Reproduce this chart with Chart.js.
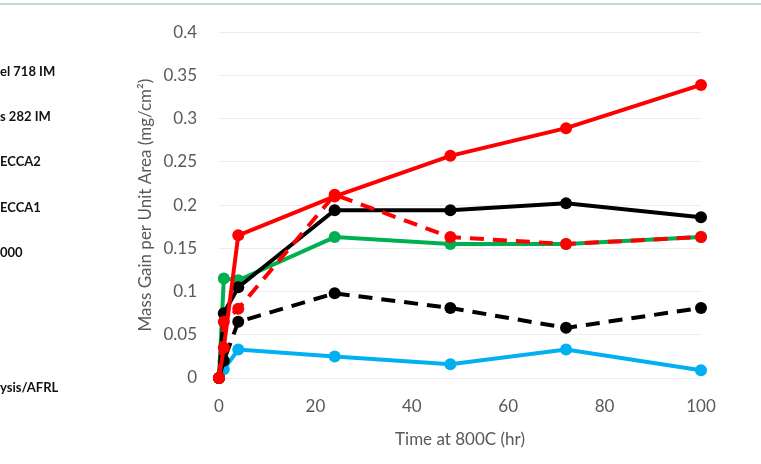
<!DOCTYPE html>
<html>
<head>
<meta charset="utf-8">
<script src="https://cdn.jsdelivr.net/npm/chart.js@4/dist/chart.umd.min.js"></script>
<style>
  body { margin: 0; background: #fff; }
  #wrap { position: relative; width: 761px; height: 464px; }
  #topline { position: absolute; left: 0; top: 3px; width: 761px; height: 2px; background: #b7ddd6; }
  .leg { position: absolute; left: 0; font: bold 13px Lato, "Liberation Sans", sans-serif; color: #111; white-space: nowrap; }
</style>
</head>
<body>
<div id="wrap">
  <canvas id="chart" width="761" height="464"></canvas>
  <div id="topline"></div>
</div>
<script>
// 資料
var hours = [0, 1, 4, 24, 48, 72, 100];
var redSolid = [0, 0.035, 0.165, 0.21, 0.257, 0.289, 0.339];
var redDash = [0, 0.065, 0.08, 0.212, 0.163, 0.155, 0.163];
var blackSolid = [0, 0.075, 0.105, 0.194, 0.194, 0.202, 0.186];
var green = [0, 0.115, 0.113, 0.163, 0.155, 0.155, 0.163];
var blackDash = [0, 0.02, 0.065, 0.098, 0.081, 0.058, 0.081];
var blue = [0, 0.01, 0.033, 0.025, 0.016, 0.033, 0.009];

// 圖例文字 (左邊被裁掉)
var legendLabels = ['el 718 IM', 's 282 IM', 'ECCA2', 'ECCA1', '000', '', '', 'ysis/AFRL'];

var wrap = document.getElementById('wrap');
legendLabels.forEach(function (t, i) {
  if (!t) return;
  var d = document.createElement('div');
  d.className = 'leg';
  d.style.top = (63 + i * 45.2) + 'px';
  d.textContent = t;
  wrap.appendChild(d);
});

function pts(vals) {
  return vals.map(function (v, i) { return { x: hours[i], y: v }; });
}

function ds(label, vals, color, dashed) {
  return {
    label: label,
    data: pts(vals),
    borderColor: color,
    backgroundColor: color,
    borderWidth: 4,
    borderDash: dashed ? [14, 9] : [],
    pointRadius: 6,
    pointBorderWidth: 0,
    pointBackgroundColor: color,
    tension: 0,
    clip: false
  };
}

var font = { family: 'Lato, "Open Sans", sans-serif', size: 17 };

var ctx = document.getElementById('chart').getContext('2d');
new Chart(ctx, {
  type: 'line',
  data: {
    datasets: [
      ds('redSolid', redSolid, '#ff0000', false),
      ds('redDash', redDash, '#ff0000', true),
      ds('blackSolid', blackSolid, '#000000', false),
      ds('green', green, '#00b050', false),
      ds('blackDash', blackDash, '#000000', true),
      ds('blue', blue, '#00b0f0', false)
    ]
  },
  options: {
    responsive: false,
    animation: false,
    layout: { padding: { left: 130, right: 60, top: 30, bottom: 0 } },
    plugins: { legend: { display: false }, tooltip: { enabled: false } },
    scales: {
      x: {
        type: 'linear',
        min: 0,
        max: 100,
        ticks: { stepSize: 20, padding: 18, color: '#595959', font: font },
        grid: { display: false, drawTicks: false },
        border: { display: false },
        title: { display: true, text: 'Time at 800C (hr)', color: '#595959', font: font, padding: { top: 4, bottom: 14 } },
        afterFit: function (s) { s.height = 86; }
      },
      y: {
        min: 0,
        max: 0.4,
        ticks: {
          stepSize: 0.05,
          padding: 22,
          color: '#595959',
          font: font,
          callback: function (v) { return String(+v.toFixed(2)); }
        },
        grid: { color: '#ececec', lineWidth: 1, drawTicks: false },
        border: { display: false },
        title: { display: true, text: 'Mass Gain per Unit Area (mg/cm²)', color: '#595959', font: font, padding: { top: 5, bottom: 0 } },
        afterFit: function (s) { s.width = 89; }
      }
    }
  }
});
</script>
</body>
</html>
